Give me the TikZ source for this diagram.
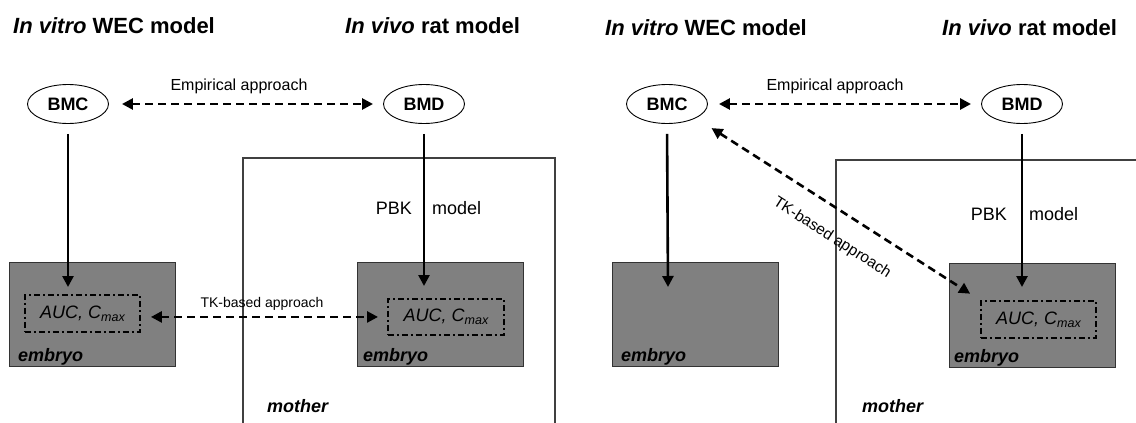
\documentclass[tikz,border=0pt]{standalone}
\usepackage{fontspec}
\setmainfont{Liberation Sans}
\usetikzlibrary{arrows.meta,shapes.geometric,calc}

\newcommand{\cmax}{C\raisebox{-0.32ex}{\fontsize{12.5}{13}\selectfont max}}

\begin{document}
\begin{tikzpicture}[x=1pt,y=-1pt,
  title/.style={anchor=base west,inner sep=0,font=\fontsize{22}{26}\selectfont},
  dose/.style={ellipse,draw,line width=0.9pt,minimum width=81pt,minimum height=39pt,
    inner sep=0,font=\fontsize{18}{20}\selectfont\bfseries},
  embryobox/.style={draw=black!80,line width=1.3pt,fill=black!50,anchor=north west,inner sep=0},
  aucbox/.style={draw,line width=1.9pt,dash pattern=on 6pt off 3pt on 2pt off 3pt,
    anchor=north west,inner sep=0,font=\fontsize{18}{20}\selectfont\itshape},
  tag/.style={anchor=base west,inner sep=0,font=\fontsize{18}{20}\selectfont\bfseries\itshape},
  plain/.style={inner sep=0,font=\fontsize{18}{20}\selectfont},
  lbl/.style={inner sep=0,font=\fontsize{#1}{#1}\selectfont},
  motherline/.style={draw=black!75,line width=1.2pt},
  flow/.style={line width=2.6pt,-{Triangle[width=11pt,length=11pt]}},
  relate/.style={line width=2.6pt,dash pattern=on 8pt off 5pt,
    {Triangle[width=11pt,length=11pt]}-{Triangle[width=11pt,length=11pt]}}
]
\useasboundingbox[fill=white] (0,0) rectangle (1136,423);

% ---------------- left panel ----------------
\node[title] (tvitroL) at (13,33) {\textbf{\textit{In vitro}} \textbf{WEC model}};
\node[title] (tvivoL) at (345,33) {\textbf{\textit{In vivo}} \textbf{rat model}};

\path[motherline] (243,423) -- (243,158) -- (555,158) -- (555,423);
\node[tag] (motherL) at (267,412) {mother};

\node[dose] (bmcL) at (68,104) {BMC};
\node[dose] (bmdL) at (424,104) {BMD};

\node[embryobox,minimum width=166pt,minimum height=104pt] (eL) at (9,262) {};
\node[embryobox,minimum width=166pt,minimum height=104pt] (eL2) at (357,262) {};
\node[tag] (eLtag) at ($(eL.south west)+(9,-6)$) {embryo};
\node[tag] (eL2tag) at ($(eL2.south west)+(6,-6)$) {embryo};

\node[aucbox,minimum width=115pt,minimum height=37pt] (aucL) at (24,294) {AUC, \cmax};
\node[aucbox,minimum width=116pt,minimum height=36pt] (aucL2) at (387,298) {AUC, \cmax};

\draw[relate,shorten <=13pt,shorten >=10pt] (bmcL.east) -- (bmdL.west);
\node[lbl=16] (empL) at (239,86) {Empirical approach};

\draw[flow,shorten <=10pt,shorten >=7pt] (bmcL.south) -- (bmcL.south |- aucL.north);
\draw[flow,shorten <=10pt,shorten >=12pt] (bmdL.south) -- (bmdL.south |- aucL2.north);
\node[plain,anchor=east] (pbkL) at (412,208) {PBK};
\node[plain,anchor=west] (modL) at (432,208) {model};

\draw[relate,shorten <=10pt,shorten >=9pt] (aucL.east |- aucL2.west) -- (aucL2.west);
\node[lbl=14] (tkL) at (262,304) {TK-based approach};

% ---------------- right panel ----------------
\node[title] (tvitroR) at (605,35) {\textbf{\textit{In vitro}} \textbf{WEC model}};
\node[title] (tvivoR) at (942,35) {\textbf{\textit{In vivo}} \textbf{rat model}};

\path[motherline] (836,423) -- (836,160) -- (1136,160);
\node[tag] (motherR) at (862,412) {mother};

\node[dose] (bmcR) at (667,104) {BMC};
\node[dose] (bmdR) at (1022,104) {BMD};

\node[embryobox,minimum width=166pt,minimum height=104pt] (eR) at (612,262) {};
\node[embryobox,minimum width=166pt,minimum height=104pt] (eR2) at (949,263) {};
\node[tag] (eRtag) at ($(eR.south west)+(9,-6)$) {embryo};
\node[tag] (eR2tag) at ($(eR2.south west)+(5,-6)$) {embryo};

\node[aucbox,minimum width=115pt,minimum height=37pt] (aucR2) at (980,300) {AUC, \cmax};

\draw[relate,shorten <=11pt,shorten >=10pt] (bmcR.east) -- (bmdR.west);
\node[lbl=16] (empR) at (835,86) {Empirical approach};

\coordinate (tipR) at (668,287);
\draw[flow,shorten <=10pt] (bmcR.south) -- (tipR);
\draw[flow,shorten <=10pt,shorten >=13pt] (bmdR.south) -- (bmdR.south |- aucR2.north);
\node[plain,anchor=east] (pbkR) at (1007,214) {PBK};
\node[plain,anchor=west] (modR) at (1029,214) {model};

\draw[relate,shorten <=18.5pt,shorten >=11.7pt] (bmcR.south east) -- (aucR2.north west);
\node[lbl=15.5,rotate=-32.6] (tkR) at (832,238) {TK-based approach};
\end{tikzpicture}
\end{document}
